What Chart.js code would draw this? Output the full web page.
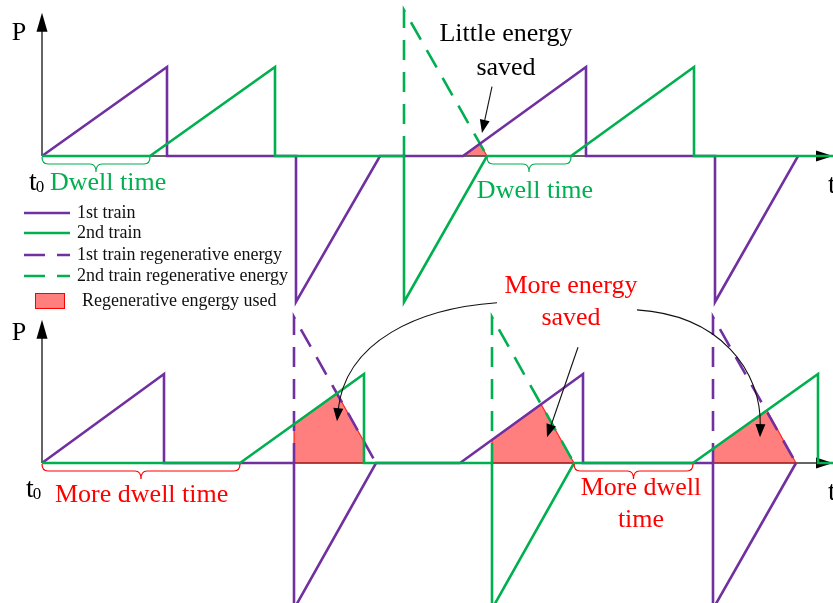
<!DOCTYPE html>
<html>
<head>
<meta charset="utf-8">
<script src="https://cdn.jsdelivr.net/npm/chart.js@4"></script>
<style>
  html, body { margin: 0; padding: 0; background: #fff; }
  #wrap { width: 833px; height: 603px; }
</style>
</head>
<body>
<div id="wrap"><canvas id="c" width="833" height="603"></canvas></div>
<script>
// time t (arbitrary units) vs power P (traction peak = 1)
// panel a: original timetable
var topTrain1 = [[0, 0], [125, 1], [125, 0], [254, 0], [254, -1.64], [338, 0], [421, 0], [544, 1], [544, 0], [673, 0], [673, -1.64], [756, 0]];
var topTrain2 = [[0, 0], [108, 0], [233, 1], [233, 0], [362, 0], [362, -1.64], [445, 0], [529, 0], [652, 1], [652, 0], [791, 0]];
var topRegen2 = [[362, 0], [362, 1.64], [445, 0]];
var topUsed = [[421, 0], [438, 0.14], [445, 0]];

// panel b: longer dwell time
var botTrain1 = [[0, 0], [122, 1], [122, 0], [252, 0], [252, -1.64], [334, 0], [418, 0], [541, 1], [541, 0], [671, 0], [671, -1.64], [754, 0]];
var botTrain2 = [[0, 0], [198, 0], [322, 1], [322, 0], [450, 0], [450, -1.64], [532, 0], [651, 0], [776, 1], [776, 0], [791, 0]];
var botRegen1a = [[252, 0], [252, 1.64], [334, 0]];
var botRegen1b = [[671, 0], [671, 1.64], [754, 0]];
var botRegen2 = [[450, 0], [450, 1.64], [532, 0]];
var botUsed1 = [[252, 0], [252, 0.44], [295, 0.78], [322, 0.24], [322, 0]];
var botUsed2 = [[450, 0], [450, 0.26], [499, 0.66], [532, 0]];
var botUsed3 = [[671, 0], [671, 0.16], [725, 0.59], [754, 0]];

var legendLabels = ['1st train', '2nd train', '1st train regenerative energy', '2nd train regenerative energy', 'Regenerative engergy used'];

var PURPLE = '#7030A0';
var GREEN = '#00B050';
var RED = '#FF0000';
var FILL = 'rgba(255,0,0,0.5)';
var SERIF = '"Liberation Serif", "Times New Roman", serif';
var DASH = [20, 12];

function pts(a) { return a.map(function (p) { return { x: p[0], y: p[1] }; }); }

function lineSet(label, data, axis, color, order, dash) {
    return {
        label: label, data: pts(data), yAxisID: axis, showLine: true,
        borderColor: color, borderWidth: 2.6, borderDash: dash || [],
        pointRadius: 0, tension: 0, fill: false, order: order
    };
}
function usedSet(data, axis) {
    return {
        label: 'Regenerative engergy used', data: pts(data), yAxisID: axis, showLine: true,
        borderColor: 'rgba(255,0,0,0.8)', borderWidth: 1.2, backgroundColor: FILL,
        pointRadius: 0, tension: 0, fill: 'origin', order: 10
    };
}

// texts placed in data coordinates (t, P) of the panel axis
var texts = [
    { s: 'P', t: -23, p: 1.38, axis: 'yTop', size: 26, color: '#000', align: 'center' },
    { s: 'Dwell time', t: 8, p: -0.30, axis: 'yTop', size: 26, color: GREEN, align: 'left' },
    { s: 'Dwell time', t: 493, p: -0.40, axis: 'yTop', size: 26, color: GREEN, align: 'center' },
    { s: 'Little energy', t: 464, p: 1.37, axis: 'yTop', size: 26, color: '#000', align: 'center' },
    { s: 'saved', t: 464, p: 0.99, axis: 'yTop', size: 26, color: '#000', align: 'center' },
    { s: 't', t: 786, p: -0.33, axis: 'yTop', size: 28, color: '#000', align: 'left' },
    { s: 'P', t: -23, p: 1.46, axis: 'yBot', size: 26, color: '#000', align: 'center' },
    { s: 'More dwell time', t: 13, p: -0.36, axis: 'yBot', size: 26, color: RED, align: 'left' },
    { s: 'More dwell', t: 599, p: -0.28, axis: 'yBot', size: 26, color: RED, align: 'center' },
    { s: 'time', t: 599, p: -0.64, axis: 'yBot', size: 26, color: RED, align: 'center' },
    { s: 'More energy', t: 529, p: 1.99, axis: 'yBot', size: 26, color: RED, align: 'center' },
    { s: 'saved', t: 529, p: 1.63, axis: 'yBot', size: 26, color: RED, align: 'center' },
    { s: 't', t: 786, p: -0.33, axis: 'yBot', size: 28, color: '#000', align: 'left' }
];
var t0Marks = [{ t: -13, p: -0.30, axis: 'yTop' }, { t: -16, p: -0.30, axis: 'yBot' }];
var braces = [
    { t1: 0, t2: 108, axis: 'yTop', color: GREEN },
    { t1: 445, t2: 529, axis: 'yTop', color: GREEN },
    { t1: 0, t2: 198, axis: 'yBot', color: RED },
    { t1: 532, t2: 651, axis: 'yBot', color: RED }
];
// annotation arrows: start, [control1, control2], end
var arrows = [
    { axis: 'yTop', p: [[450, 0.78], [440, 0.26]] },
    { axis: 'yBot', p: [[455, 1.80], [378, 1.74], [303, 1.38], [295, 0.47]] },
    { axis: 'yBot', p: [[536, 1.30], [505, 0.29]] },
    { axis: 'yBot', p: [[595, 1.72], [678, 1.66], [720, 1.04], [718, 0.29]] }
];

function px(chart, t, p, axis) {
    return [chart.scales.x.getPixelForValue(t), chart.scales[axis].getPixelForValue(p)];
}
function head(ctx, x, y, ang, len, half) {
    ctx.save();
    ctx.translate(x, y);
    ctx.rotate(ang);
    ctx.beginPath();
    ctx.moveTo(0, 0);
    ctx.lineTo(-len, -half);
    ctx.lineTo(-len, half);
    ctx.closePath();
    ctx.fill();
    ctx.restore();
}

var diagram = {
    id: 'diagram',
    beforeDatasetsDraw: function (chart) {
        var ctx = chart.ctx;
        ctx.save();
        ctx.strokeStyle = '#333';
        ctx.fillStyle = '#000';
        ctx.lineWidth = 1.5;
        ['yTop', 'yBot'].forEach(function (axis) {
            var o = px(chart, 0, 0, axis);
            var tip = px(chart, 0, 1.61, axis);
            var end = px(chart, 791, 0, axis);
            ctx.beginPath();
            ctx.moveTo(o[0], o[1]);
            ctx.lineTo(tip[0], tip[1] + 12);
            ctx.moveTo(o[0], o[1]);
            ctx.lineTo(end[0] - 10, end[1]);
            ctx.stroke();
            head(ctx, tip[0], tip[1], -Math.PI / 2, 19, 5.5);
            head(ctx, end[0], end[1], 0, 17, 5.5);
        });
        ctx.restore();
    },
    afterDatasetsDraw: function (chart) {
        var ctx = chart.ctx;
        ctx.save();

        braces.forEach(function (b) {
            var a = px(chart, b.t1, 0, b.axis), c = px(chart, b.t2, 0, b.axis);
            var y0 = a[1] + 1, ym = y0 + 7, yt = y0 + 15, xm = (a[0] + c[0]) / 2, r = 6;
            ctx.strokeStyle = b.color;
            ctx.lineWidth = 1.2;
            ctx.beginPath();
            ctx.moveTo(a[0], y0);
            ctx.quadraticCurveTo(a[0], ym, a[0] + r, ym);
            ctx.lineTo(xm - r, ym);
            ctx.quadraticCurveTo(xm, ym, xm, yt);
            ctx.quadraticCurveTo(xm, ym, xm + r, ym);
            ctx.lineTo(c[0] - r, ym);
            ctx.quadraticCurveTo(c[0], ym, c[0], y0);
            ctx.stroke();
        });

        ctx.strokeStyle = '#111';
        ctx.fillStyle = '#000';
        ctx.lineWidth = 1.1;
        arrows.forEach(function (a) {
            var q = a.p.map(function (p) { return px(chart, p[0], p[1], a.axis); });
            var n = q.length, e = q[n - 1], pr = q[n - 2];
            var ang = Math.atan2(e[1] - pr[1], e[0] - pr[0]);
            var sx = e[0] - Math.cos(ang) * 10, sy = e[1] - Math.sin(ang) * 10;
            ctx.beginPath();
            ctx.moveTo(q[0][0], q[0][1]);
            if (n === 4) ctx.bezierCurveTo(q[1][0], q[1][1], q[2][0], q[2][1], sx, sy);
            else ctx.lineTo(sx, sy);
            ctx.stroke();
            head(ctx, e[0], e[1], ang, 13, 5);
        });

        ctx.textBaseline = 'middle';
        texts.forEach(function (s) {
            var p = px(chart, s.t, s.p, s.axis);
            ctx.font = s.size + 'px ' + SERIF;
            ctx.fillStyle = s.color;
            ctx.textAlign = s.align;
            ctx.fillText(s.s, p[0], p[1]);
        });
        t0Marks.forEach(function (m) {
            var p = px(chart, m.t, m.p, m.axis);
            ctx.fillStyle = '#000';
            ctx.textAlign = 'left';
            ctx.font = '28px ' + SERIF;
            ctx.fillText('t', p[0], p[1]);
            var w = ctx.measureText('t').width;
            ctx.font = '17px ' + SERIF;
            ctx.fillText('0', p[0] + w - 1, p[1] + 5);
        });

        // legend
        var lx = 24, lw = 46, tx = 77, ys = [213, 233, 255, 276];
        var styles = [[PURPLE, []], [GREEN, []], [PURPLE, [21, 12]], [GREEN, [21, 12]]];
        ctx.font = '18px ' + SERIF;
        ctx.textAlign = 'left';
        ctx.fillStyle = '#111';
        ys.forEach(function (y, i) {
            ctx.strokeStyle = styles[i][0];
            ctx.setLineDash(styles[i][1]);
            ctx.lineWidth = 2.6;
            ctx.beginPath();
            ctx.moveTo(lx, y);
            ctx.lineTo(lx + lw, y);
            ctx.stroke();
            ctx.fillText(legendLabels[i], tx, y);
        });
        ctx.setLineDash([]);
        ctx.fillStyle = FILL;
        ctx.fillRect(35, 293, 29, 15);
        ctx.strokeStyle = RED;
        ctx.lineWidth = 1;
        ctx.strokeRect(35.5, 293.5, 29, 15);
        ctx.fillStyle = '#111';
        ctx.fillText(legendLabels[4], 82, 301);

        ctx.restore();
    }
};

new Chart(document.getElementById('c'), {
    type: 'scatter',
    data: {
        datasets: [
            lineSet('2nd train', topTrain2, 'yTop', GREEN, 1),
            lineSet('2nd train', botTrain2, 'yBot', GREEN, 1),
            lineSet('1st train', topTrain1, 'yTop', PURPLE, 2),
            lineSet('1st train', botTrain1, 'yBot', PURPLE, 2),
            lineSet('2nd train regenerative energy', topRegen2, 'yTop', GREEN, 3, DASH),
            lineSet('2nd train regenerative energy', botRegen2, 'yBot', GREEN, 3, DASH),
            lineSet('1st train regenerative energy', botRegen1a, 'yBot', PURPLE, 3, DASH),
            lineSet('1st train regenerative energy', botRegen1b, 'yBot', PURPLE, 3, DASH),
            usedSet(topUsed, 'yTop'),
            usedSet(botUsed1, 'yBot'),
            usedSet(botUsed2, 'yBot'),
            usedSet(botUsed3, 'yBot')
        ]
    },
    options: {
        responsive: false,
        animation: false,
        layout: { padding: 0 },
        plugins: { legend: { display: false }, tooltip: { enabled: false } },
        scales: {
            x: { type: 'linear', min: -42, max: 791, display: false },
            yTop: { type: 'linear', min: -5.022, max: 1.753, display: false },
            yBot: { type: 'linear', min: -1.573, max: 5.202, display: false }
        }
    },
    plugins: [diagram]
});
</script>
</body>
</html>
